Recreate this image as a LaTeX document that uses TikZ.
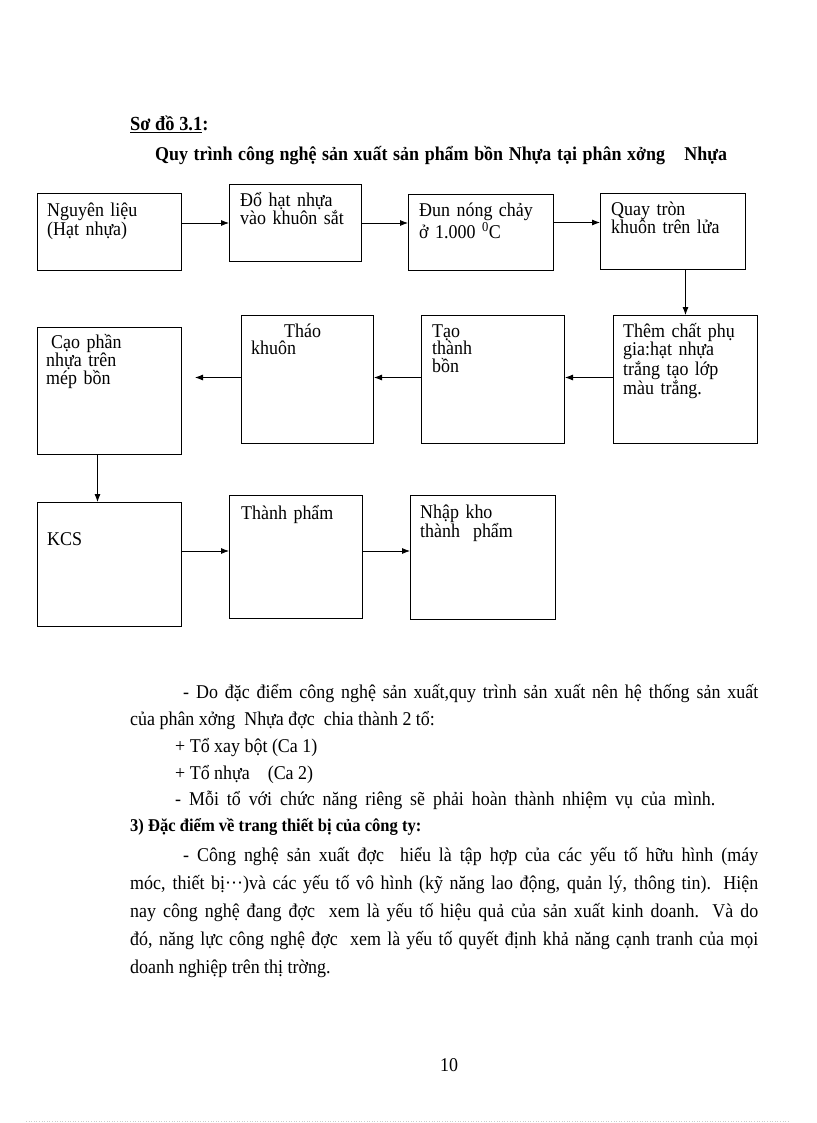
\documentclass[tikz,border=0pt]{standalone}
\usepackage{fontspec}
\setmainfont{Liberation Serif}[FakeStretch=0.92]
\usetikzlibrary{arrows.meta}
\begin{document}
\begin{tikzpicture}[x=1pt,y=-1pt,
	box/.style={draw,line width=1pt,anchor=north west,inner sep=0pt},
	lbl/.style={anchor=base west,inner sep=0pt,align=left,text width=140pt,font=\fontsize{19.5}{17.5}\selectfont},
	txt/.style={anchor=base west,inner sep=0pt,font=\fontsize{19.5}{20}\selectfont},
	head/.style={txt,font=\bfseries\fontsize{19.5}{20}\selectfont},
	arr/.style={line width=.8pt,-{Latex[length=8pt,width=6pt]}}]
	\useasboundingbox (0,0) rectangle (816,1123);
	% tieu de
	\node[head,font=\bfseries\fontsize{20}{20}\selectfont] (so) at (130,131) {\underline{Sơ đồ 3.1}:};
	\node[head] (quy) at (155,161) {\makebox[572pt][s]{Quy trình công nghệ sản xuất sản phẩm bồn Nhựa tại phân xởng\quad Nhựa}};
	% hang 1
	\node[box,minimum width=144pt,minimum height=77pt] (b1) at (37,193) {};
	\node[box,minimum width=132pt,minimum height=77pt] (b2) at (229,184) {};
	\node[box,minimum width=145pt,minimum height=76pt] (b3) at (408,194) {};
	\node[box,minimum width=145pt,minimum height=76pt] (b4) at (600,193) {};
	\node[lbl] (t1) at (47,217) {Nguyên liệu\\(Hạt nhựa)};
	\node[lbl] (t2) at (240,207) {Đổ hạt nhựa\\vào khuôn sắt};
	\node[lbl] (t3) at (419,217) {Đun nóng chảy\\ở 1.000 \textsuperscript{0}C};
	\node[lbl] (t4) at (611,215) {Quay tròn\\khuôn trên lửa};
	% hang 2
	\node[box,minimum width=144pt,minimum height=127pt] (r1) at (37,327) {};
	\node[box,minimum width=132pt,minimum height=128pt] (r2) at (241,315) {};
	\node[box,minimum width=143pt,minimum height=128pt] (r3) at (421,315) {};
	\node[box,minimum width=144pt,minimum height=128pt] (r4) at (613,315) {};
	\node[lbl] (u1) at (46,348) {\hspace*{5pt}Cạo phần\\nhựa trên\\mép bồn};
	\node[lbl] (u2) at (251,337) {\hspace*{33pt}Tháo\\khuôn};
	\node[lbl] (u3) at (432,337) {Tạo\\thành\\bồn};
	\node[lbl] (u4) at (623,337) {Thêm chất phụ\\gia:hạt nhựa\\trắng tạo lớp\\màu trắng.};
	% hang 3
	\node[box,minimum width=144pt,minimum height=124pt] (k1) at (37,502) {};
	\node[box,minimum width=133pt,minimum height=123pt] (k2) at (229,495) {};
	\node[box,minimum width=145pt,minimum height=124pt] (k3) at (410,495) {};
	\node[lbl] (v1) at (47,545) {KCS};
	\node[lbl] (v2) at (241,519) {Thành phẩm};
	\node[lbl] (v3) at (420,518) {Nhập kho\\thành\ \ phẩm};
	% mui ten
	\draw[arr] (b1.east |- b2.west) -- (b2.west);
	\draw[arr] (b2.east) -- (b2.east -| b3.west);
	\draw[arr] ([yshift=10pt]b3.east) -- ([yshift=10pt]b3.east -| b4.west);
	\draw[arr] (r4.north |- b4.south) -- (r4.north);
	\draw[arr] ([yshift=2pt]r4.west) -- ([yshift=2pt]r3.east);
	\draw[arr] ([yshift=2pt]r3.west) -- ([yshift=2pt]r2.east);
	\draw[arr,shorten >=13pt] ([yshift=2pt]r2.west) -- ([yshift=2pt]r2.west -| r1.east);
	\draw[arr] ([xshift=-12pt]r1.south) -- ([xshift=-12pt]r1.south |- k1.north);
	\draw[arr] ([yshift=6pt]k1.east |- k2.west) -- ([yshift=6pt]k2.west);
	\draw[arr] ([yshift=6pt]k2.east) -- ([yshift=6pt]k2.east -| k3.west);
	% van ban
	\node[txt] (p1) at (183,698) {\makebox[575pt][s]{- Do đặc điểm công nghệ sản xuất,quy trình sản xuất nên hệ thống sản xuất}};
	\node[txt] (p2) at (130,725) {của phân xởng\ \ Nhựa đợc\ \ chia thành 2 tổ:};
	\node[txt] (p3) at (175,752) {+ Tổ xay bột (Ca 1)};
	\node[txt] (p4) at (175,779) {+ Tổ nhựa\ \ \ \ (Ca 2)};
	\node[txt] (p5) at (175,805) {\makebox[540pt][s]{- Mỗi tổ với chức năng riêng sẽ phải hoàn thành nhiệm vụ của mình.}};
	\node[head,font=\bfseries\fontsize{18}{20}\selectfont] (p6) at (130,831) {3) Đặc điểm về trang thiết bị của công ty:};
	\node[txt] (p7) at (183,861) {\makebox[575pt][s]{- Công nghệ sản xuất đợc\ \ hiểu là tập hợp của các yếu tố hữu hình (máy}};
	\node[txt] (p8) at (130,889) {\makebox[628pt][s]{móc, thiết bị···)và các yếu tố vô hình (kỹ năng lao động, quản lý, thông tin). Hiện}};
	\node[txt] (p9) at (130,917) {\makebox[628pt][s]{nay công nghệ đang đợc\ \ xem là yếu tố hiệu quả của sản xuất kinh doanh. Và do}};
	\node[txt] (p10) at (130,945) {\makebox[628pt][s]{đó, năng lực công nghệ đợc\ \ xem là yếu tố quyết định khả năng cạnh tranh của mọi}};
	\node[txt] (p11) at (130,973) {doanh nghiệp trên thị trờng.};
	\node[txt] (trang) at (440,1071) {10};
	\draw[gray!40,dotted,line width=.6pt] (26,1121.5) -- (790,1121.5);
\end{tikzpicture}
\end{document}
